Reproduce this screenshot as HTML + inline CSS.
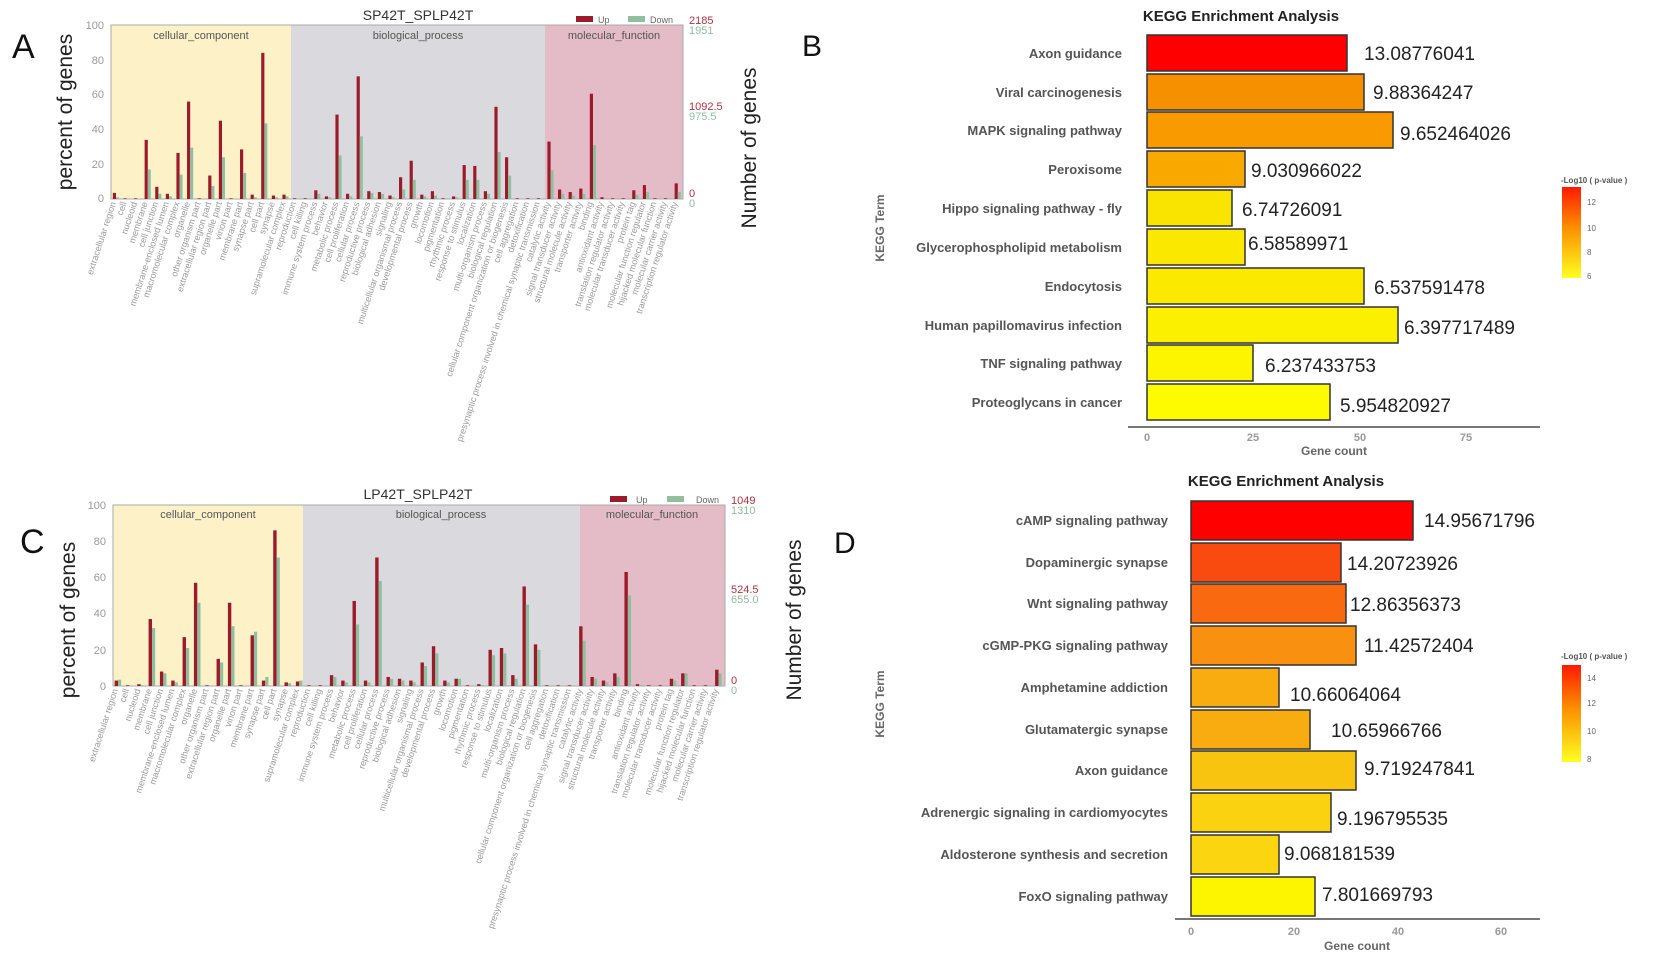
<!DOCTYPE html>
<html><head><meta charset="utf-8"><style>
html,body{margin:0;padding:0;background:#fff;}
svg{display:block;font-family:"Liberation Sans",sans-serif;}
.xl{font-size:9px;fill:#9a9a9a;text-anchor:end;}
.kl{font-size:13px;font-weight:bold;fill:#555;text-anchor:end;}
.kv{font-size:19px;fill:#222;}
.tk{font-size:11px;fill:#999;}
.kt{font-size:12px;fill:#666;font-weight:bold;text-anchor:middle;}
</style></head><body>
<svg width="1660" height="958" viewBox="0 0 1660 958" xmlns="http://www.w3.org/2000/svg">
<defs>
<linearGradient id="cb" x1="0" y1="0" x2="0" y2="1"><stop offset="0" stop-color="#ff1a00"/><stop offset="0.45" stop-color="#fb9000"/><stop offset="1" stop-color="#ffff20"/></linearGradient>
</defs>

<!-- ===== Panel A ===== -->
<text x="12" y="58" font-size="34" fill="#111">A</text>
<text x="418" y="20" font-size="14" fill="#333" text-anchor="middle">SP42T_SPLP42T</text>
<rect x="111" y="25" width="180" height="174" fill="#fdf1c8"/>
<rect x="291" y="25" width="254" height="174" fill="#dadade"/>
<rect x="545" y="25" width="138" height="174" fill="#e3bcc8"/>
<rect x="111" y="25" width="572" height="174" fill="none" stroke="#aaa" stroke-width="1"/>
<text x="201" y="39" font-size="11" fill="#555" text-anchor="middle">cellular_component</text>
<text x="418" y="39" font-size="11" fill="#555" text-anchor="middle">biological_process</text>
<text x="614" y="39" font-size="11" fill="#555" text-anchor="middle">molecular_function</text>
<g class="tk" text-anchor="end"><text x="104" y="29">100</text><text x="104" y="64">80</text><text x="104" y="98">60</text><text x="104" y="133">40</text><text x="104" y="168">20</text><text x="104" y="202">0</text></g>
<rect x="576" y="16" width="17" height="6" fill="#9b1b2a"/><text x="598" y="23" font-size="9" fill="#666">Up</text>
<rect x="628" y="16" width="17" height="6" fill="#8fbf9f"/><text x="650" y="23" font-size="9" fill="#666">Down</text>
<g font-size="11"><text x="689" y="24" fill="#b03040">2185</text><text x="689" y="34" fill="#8fbf9f">1951</text><text x="689" y="110" fill="#b03040">1092.5</text><text x="689" y="120" fill="#8fbf9f">975.5</text><text x="689" y="197" fill="#b03040">0</text><text x="689" y="207" fill="#8fbf9f">0</text></g>
<text transform="translate(72,112) rotate(-90)" font-size="21" fill="#222" text-anchor="middle">percent of genes</text>
<text transform="translate(756,148) rotate(-90)" font-size="21" fill="#222" text-anchor="middle">Number of genes</text>
<g transform="translate(116,199) scale(10.6,-1.74)">
<g fill="#9b1b2a">
<rect x="-0.3" width="0.3" height="3.5"/><rect x="0.7" width="0.3" height="0.4"/><rect x="1.7" width="0.3" height="0.4"/><rect x="2.7" width="0.3" height="34"/><rect x="3.7" width="0.3" height="7"/><rect x="4.7" width="0.3" height="3"/><rect x="5.7" width="0.3" height="26.5"/><rect x="6.7" width="0.3" height="56"/><rect x="7.7" width="0.3" height="0.4"/><rect x="8.7" width="0.3" height="13.5"/><rect x="9.7" width="0.3" height="45"/><rect x="10.7" width="0.3" height="0.4"/><rect x="11.7" width="0.3" height="28.5"/><rect x="12.7" width="0.3" height="2.5"/><rect x="13.7" width="0.3" height="84"/><rect x="14.7" width="0.3" height="2"/><rect x="15.7" width="0.3" height="2.5"/><rect x="16.7" width="0.3" height="0.4"/><rect x="17.7" width="0.3" height="0.4"/><rect x="18.7" width="0.3" height="5"/><rect x="19.7" width="0.3" height="1.5"/><rect x="20.7" width="0.3" height="48.5"/><rect x="21.7" width="0.3" height="3"/><rect x="22.7" width="0.3" height="70.5"/><rect x="23.7" width="0.3" height="4.5"/><rect x="24.7" width="0.3" height="4"/><rect x="25.7" width="0.3" height="2"/><rect x="26.7" width="0.3" height="12.5"/><rect x="27.7" width="0.3" height="22"/><rect x="28.7" width="0.3" height="2.5"/><rect x="29.7" width="0.3" height="4.5"/><rect x="30.7" width="0.3" height="0.4"/><rect x="31.7" width="0.3" height="1.5"/><rect x="32.7" width="0.3" height="19.5"/><rect x="33.7" width="0.3" height="19"/><rect x="34.7" width="0.3" height="4.5"/><rect x="35.7" width="0.3" height="53"/><rect x="36.7" width="0.3" height="24"/><rect x="37.7" width="0.3" height="0.4"/><rect x="38.7" width="0.3" height="0.4"/><rect x="39.7" width="0.3" height="0.4"/><rect x="40.7" width="0.3" height="33"/><rect x="41.7" width="0.3" height="5.5"/><rect x="42.7" width="0.3" height="4"/><rect x="43.7" width="0.3" height="6"/><rect x="44.7" width="0.3" height="60.5"/><rect x="45.7" width="0.3" height="1"/><rect x="46.7" width="0.3" height="0.4"/><rect x="47.7" width="0.3" height="0.4"/><rect x="48.7" width="0.3" height="5"/><rect x="49.7" width="0.3" height="8"/><rect x="50.7" width="0.3" height="0.4"/><rect x="51.7" width="0.3" height="0.4"/><rect x="52.7" width="0.3" height="9"/>
</g>
<g fill="#8fbf9f">
<rect x="0" width="0.28" height="1"/><rect x="3" width="0.28" height="17"/><rect x="4" width="0.28" height="3"/><rect x="5" width="0.28" height="1.5"/><rect x="6" width="0.28" height="14"/><rect x="7" width="0.28" height="29.5"/><rect x="9" width="0.28" height="7.5"/><rect x="10" width="0.28" height="24"/><rect x="12" width="0.28" height="15"/><rect x="13" width="0.28" height="1"/><rect x="14" width="0.28" height="43.5"/><rect x="15" width="0.28" height="1"/><rect x="16" width="0.28" height="1.5"/><rect x="19" width="0.28" height="3"/><rect x="20" width="0.28" height="1"/><rect x="21" width="0.28" height="25"/><rect x="22" width="0.28" height="1.5"/><rect x="23" width="0.28" height="36"/><rect x="24" width="0.28" height="3.5"/><rect x="25" width="0.28" height="3"/><rect x="26" width="0.28" height="1"/><rect x="27" width="0.28" height="5.5"/><rect x="28" width="0.28" height="11"/><rect x="29" width="0.28" height="1.5"/><rect x="30" width="0.28" height="2"/><rect x="32" width="0.28" height="1"/><rect x="33" width="0.28" height="11"/><rect x="34" width="0.28" height="11"/><rect x="35" width="0.28" height="3"/><rect x="36" width="0.28" height="27"/><rect x="37" width="0.28" height="13.5"/><rect x="41" width="0.28" height="16.5"/><rect x="42" width="0.28" height="3"/><rect x="43" width="0.28" height="2"/><rect x="44" width="0.28" height="3"/><rect x="45" width="0.28" height="31"/><rect x="49" width="0.28" height="2.5"/><rect x="50" width="0.28" height="4"/><rect x="53" width="0.28" height="4"/>
</g></g>
<g class="xl">
<text transform="translate(116,203) rotate(-72)">extracellular region</text>
<text transform="translate(126.6,203) rotate(-72)">cell</text>
<text transform="translate(137.2,203) rotate(-72)">nucleoid</text>
<text transform="translate(147.8,203) rotate(-72)">membrane</text>
<text transform="translate(158.4,203) rotate(-72)">cell junction</text>
<text transform="translate(169,203) rotate(-72)">membrane-enclosed lumen</text>
<text transform="translate(179.6,203) rotate(-72)">macromolecular complex</text>
<text transform="translate(190.2,203) rotate(-72)">organelle</text>
<text transform="translate(200.8,203) rotate(-72)">other organism part</text>
<text transform="translate(211.4,203) rotate(-72)">extracellular region part</text>
<text transform="translate(222,203) rotate(-72)">organelle part</text>
<text transform="translate(232.6,203) rotate(-72)">virion part</text>
<text transform="translate(243.2,203) rotate(-72)">membrane part</text>
<text transform="translate(253.8,203) rotate(-72)">synapse part</text>
<text transform="translate(264.4,203) rotate(-72)">cell part</text>
<text transform="translate(275,203) rotate(-72)">synapse</text>
<text transform="translate(285.6,203) rotate(-72)">supramolecular complex</text>
<text transform="translate(296.2,203) rotate(-72)">reproduction</text>
<text transform="translate(306.8,203) rotate(-72)">cell killing</text>
<text transform="translate(317.4,203) rotate(-72)">immune system process</text>
<text transform="translate(328,203) rotate(-72)">behavior</text>
<text transform="translate(338.6,203) rotate(-72)">metabolic process</text>
<text transform="translate(349.2,203) rotate(-72)">cell proliferation</text>
<text transform="translate(359.8,203) rotate(-72)">cellular process</text>
<text transform="translate(370.4,203) rotate(-72)">reproductive process</text>
<text transform="translate(381,203) rotate(-72)">biological adhesion</text>
<text transform="translate(391.6,203) rotate(-72)">signaling</text>
<text transform="translate(402.2,203) rotate(-72)">multicellular organismal process</text>
<text transform="translate(412.8,203) rotate(-72)">developmental process</text>
<text transform="translate(423.4,203) rotate(-72)">growth</text>
<text transform="translate(434,203) rotate(-72)">locomotion</text>
<text transform="translate(444.6,203) rotate(-72)">pigmentation</text>
<text transform="translate(455.2,203) rotate(-72)">rhythmic process</text>
<text transform="translate(465.8,203) rotate(-72)">response to stimulus</text>
<text transform="translate(476.4,203) rotate(-72)">localization</text>
<text transform="translate(487,203) rotate(-72)">multi-organism process</text>
<text transform="translate(497.6,203) rotate(-72)">biological regulation</text>
<text transform="translate(508.2,203) rotate(-72)">cellular component organization or biogenesis</text>
<text transform="translate(518.8,203) rotate(-72)">cell aggregation</text>
<text transform="translate(529.4,203) rotate(-72)">detoxification</text>
<text transform="translate(540,203) rotate(-72)">presynaptic process involved in chemical synaptic transmission</text>
<text transform="translate(550.6,203) rotate(-72)">catalytic activity</text>
<text transform="translate(561.2,203) rotate(-72)">signal transducer activity</text>
<text transform="translate(571.8,203) rotate(-72)">structural molecule activity</text>
<text transform="translate(582.4,203) rotate(-72)">transporter activity</text>
<text transform="translate(593,203) rotate(-72)">binding</text>
<text transform="translate(603.6,203) rotate(-72)">antioxidant activity</text>
<text transform="translate(614.2,203) rotate(-72)">translation regulator activity</text>
<text transform="translate(624.8,203) rotate(-72)">molecular transducer activity</text>
<text transform="translate(635.4,203) rotate(-72)">protein tag</text>
<text transform="translate(646,203) rotate(-72)">molecular function regulator</text>
<text transform="translate(656.6,203) rotate(-72)">hijacked molecular function</text>
<text transform="translate(667.2,203) rotate(-72)">molecular carrier activity</text>
<text transform="translate(677.8,203) rotate(-72)">transcription regulator activity</text>
</g>

<!-- ===== Panel C ===== -->
<text x="20" y="553" font-size="34" fill="#111">C</text>
<text x="418" y="499" font-size="14" fill="#333" text-anchor="middle">LP42T_SPLP42T</text>
<rect x="113" y="505" width="190" height="181" fill="#fdf1c8"/>
<rect x="303" y="505" width="277" height="181" fill="#dadade"/>
<rect x="580" y="505" width="145" height="181" fill="#e3bcc8"/>
<rect x="113" y="505" width="612" height="181" fill="none" stroke="#aaa" stroke-width="1"/>
<text x="208" y="518" font-size="11" fill="#555" text-anchor="middle">cellular_component</text>
<text x="441" y="518" font-size="11" fill="#555" text-anchor="middle">biological_process</text>
<text x="652" y="518" font-size="11" fill="#555" text-anchor="middle">molecular_function</text>
<g class="tk" text-anchor="end"><text x="106" y="509">100</text><text x="106" y="545">80</text><text x="106" y="581">60</text><text x="106" y="617">40</text><text x="106" y="654">20</text><text x="106" y="690">0</text></g>
<rect x="610" y="496" width="17" height="6" fill="#9b1b2a"/><text x="636" y="503" font-size="9" fill="#666">Up</text>
<rect x="667" y="496" width="17" height="6" fill="#8fbf9f"/><text x="696" y="503" font-size="9" fill="#666">Down</text>
<g font-size="11"><text x="731" y="504" fill="#b03040">1049</text><text x="731" y="514" fill="#8fbf9f">1310</text><text x="731" y="593" fill="#b03040">524.5</text><text x="731" y="603" fill="#8fbf9f">655.0</text><text x="731" y="684" fill="#b03040">0</text><text x="731" y="694" fill="#8fbf9f">0</text></g>
<text transform="translate(75,620) rotate(-90)" font-size="21" fill="#222" text-anchor="middle">percent of genes</text>
<text transform="translate(801,620) rotate(-90)" font-size="21" fill="#222" text-anchor="middle">Number of genes</text>
<g transform="translate(118,686) scale(11.33,-1.81)">
<g fill="#9b1b2a">
<rect x="-0.3" width="0.3" height="3"/><rect x="0.7" width="0.3" height="0.4"/><rect x="1.7" width="0.3" height="1"/><rect x="2.7" width="0.3" height="37"/><rect x="3.7" width="0.3" height="8"/><rect x="4.7" width="0.3" height="3"/><rect x="5.7" width="0.3" height="27"/><rect x="6.7" width="0.3" height="57"/><rect x="7.7" width="0.3" height="0.4"/><rect x="8.7" width="0.3" height="15"/><rect x="9.7" width="0.3" height="46"/><rect x="10.7" width="0.3" height="0.4"/><rect x="11.7" width="0.3" height="28"/><rect x="12.7" width="0.3" height="3"/><rect x="13.7" width="0.3" height="86"/><rect x="14.7" width="0.3" height="2"/><rect x="15.7" width="0.3" height="2.5"/><rect x="16.7" width="0.3" height="0.4"/><rect x="17.7" width="0.3" height="0.4"/><rect x="18.7" width="0.3" height="6"/><rect x="19.7" width="0.3" height="3"/><rect x="20.7" width="0.3" height="47"/><rect x="21.7" width="0.3" height="3"/><rect x="22.7" width="0.3" height="71"/><rect x="23.7" width="0.3" height="5"/><rect x="24.7" width="0.3" height="4"/><rect x="25.7" width="0.3" height="3"/><rect x="26.7" width="0.3" height="13"/><rect x="27.7" width="0.3" height="22"/><rect x="28.7" width="0.3" height="3"/><rect x="29.7" width="0.3" height="4"/><rect x="30.7" width="0.3" height="0.4"/><rect x="31.7" width="0.3" height="1"/><rect x="32.7" width="0.3" height="20"/><rect x="33.7" width="0.3" height="21"/><rect x="34.7" width="0.3" height="6"/><rect x="35.7" width="0.3" height="55"/><rect x="36.7" width="0.3" height="23"/><rect x="37.7" width="0.3" height="0.4"/><rect x="38.7" width="0.3" height="0.4"/><rect x="39.7" width="0.3" height="0.4"/><rect x="40.7" width="0.3" height="33"/><rect x="41.7" width="0.3" height="5"/><rect x="42.7" width="0.3" height="3"/><rect x="43.7" width="0.3" height="7"/><rect x="44.7" width="0.3" height="63"/><rect x="45.7" width="0.3" height="1"/><rect x="46.7" width="0.3" height="0.4"/><rect x="47.7" width="0.3" height="0.4"/><rect x="48.7" width="0.3" height="4"/><rect x="49.7" width="0.3" height="7"/><rect x="50.7" width="0.3" height="0.4"/><rect x="51.7" width="0.3" height="0.4"/><rect x="52.7" width="0.3" height="9"/>
</g>
<g fill="#8fbf9f">
<rect x="0" width="0.28" height="3.5"/><rect x="2" width="0.28" height="0.5"/><rect x="3" width="0.28" height="32"/><rect x="4" width="0.28" height="7"/><rect x="5" width="0.28" height="2"/><rect x="6" width="0.28" height="21"/><rect x="7" width="0.28" height="46"/><rect x="9" width="0.28" height="13"/><rect x="10" width="0.28" height="33"/><rect x="12" width="0.28" height="30"/><rect x="13" width="0.28" height="5"/><rect x="14" width="0.28" height="71"/><rect x="15" width="0.28" height="1.5"/><rect x="16" width="0.28" height="3"/><rect x="19" width="0.28" height="5"/><rect x="20" width="0.28" height="2"/><rect x="21" width="0.28" height="34"/><rect x="22" width="0.28" height="2"/><rect x="23" width="0.28" height="58"/><rect x="24" width="0.28" height="4"/><rect x="25" width="0.28" height="3"/><rect x="26" width="0.28" height="2"/><rect x="27" width="0.28" height="11"/><rect x="28" width="0.28" height="18"/><rect x="29" width="0.28" height="2"/><rect x="30" width="0.28" height="4"/><rect x="32" width="0.28" height="0.5"/><rect x="33" width="0.28" height="17"/><rect x="34" width="0.28" height="18"/><rect x="35" width="0.28" height="4"/><rect x="36" width="0.28" height="45"/><rect x="37" width="0.28" height="20"/><rect x="41" width="0.28" height="25"/><rect x="42" width="0.28" height="4"/><rect x="43" width="0.28" height="2"/><rect x="44" width="0.28" height="5"/><rect x="45" width="0.28" height="50"/><rect x="46" width="0.28" height="0.5"/><rect x="49" width="0.28" height="3"/><rect x="50" width="0.28" height="7"/><rect x="53" width="0.28" height="7"/>
</g></g>
<g class="xl">
<text transform="translate(118,690) rotate(-72)">extracellular region</text>
<text transform="translate(129.3,690) rotate(-72)">cell</text>
<text transform="translate(140.7,690) rotate(-72)">nucleoid</text>
<text transform="translate(152,690) rotate(-72)">membrane</text>
<text transform="translate(163.3,690) rotate(-72)">cell junction</text>
<text transform="translate(174.7,690) rotate(-72)">membrane-enclosed lumen</text>
<text transform="translate(186,690) rotate(-72)">macromolecular complex</text>
<text transform="translate(197.3,690) rotate(-72)">organelle</text>
<text transform="translate(208.6,690) rotate(-72)">other organism part</text>
<text transform="translate(220,690) rotate(-72)">extracellular region part</text>
<text transform="translate(231.3,690) rotate(-72)">organelle part</text>
<text transform="translate(242.6,690) rotate(-72)">virion part</text>
<text transform="translate(254,690) rotate(-72)">membrane part</text>
<text transform="translate(265.3,690) rotate(-72)">synapse part</text>
<text transform="translate(276.6,690) rotate(-72)">cell part</text>
<text transform="translate(288,690) rotate(-72)">synapse</text>
<text transform="translate(299.3,690) rotate(-72)">supramolecular complex</text>
<text transform="translate(310.6,690) rotate(-72)">reproduction</text>
<text transform="translate(321.9,690) rotate(-72)">cell killing</text>
<text transform="translate(333.3,690) rotate(-72)">immune system process</text>
<text transform="translate(344.6,690) rotate(-72)">behavior</text>
<text transform="translate(355.9,690) rotate(-72)">metabolic process</text>
<text transform="translate(367.3,690) rotate(-72)">cell proliferation</text>
<text transform="translate(378.6,690) rotate(-72)">cellular process</text>
<text transform="translate(389.9,690) rotate(-72)">reproductive process</text>
<text transform="translate(401.3,690) rotate(-72)">biological adhesion</text>
<text transform="translate(412.6,690) rotate(-72)">signaling</text>
<text transform="translate(423.9,690) rotate(-72)">multicellular organismal process</text>
<text transform="translate(435.2,690) rotate(-72)">developmental process</text>
<text transform="translate(446.6,690) rotate(-72)">growth</text>
<text transform="translate(457.9,690) rotate(-72)">locomotion</text>
<text transform="translate(469.2,690) rotate(-72)">pigmentation</text>
<text transform="translate(480.6,690) rotate(-72)">rhythmic process</text>
<text transform="translate(491.9,690) rotate(-72)">response to stimulus</text>
<text transform="translate(503.2,690) rotate(-72)">localization</text>
<text transform="translate(514.6,690) rotate(-72)">multi-organism process</text>
<text transform="translate(525.9,690) rotate(-72)">biological regulation</text>
<text transform="translate(537.2,690) rotate(-72)">cellular component organization or biogenesis</text>
<text transform="translate(548.5,690) rotate(-72)">cell aggregation</text>
<text transform="translate(559.9,690) rotate(-72)">detoxification</text>
<text transform="translate(571.2,690) rotate(-72)">presynaptic process involved in chemical synaptic transmission</text>
<text transform="translate(582.5,690) rotate(-72)">catalytic activity</text>
<text transform="translate(593.9,690) rotate(-72)">signal transducer activity</text>
<text transform="translate(605.2,690) rotate(-72)">structural molecule activity</text>
<text transform="translate(616.5,690) rotate(-72)">transporter activity</text>
<text transform="translate(627.9,690) rotate(-72)">binding</text>
<text transform="translate(639.2,690) rotate(-72)">antioxidant activity</text>
<text transform="translate(650.5,690) rotate(-72)">translation regulator activity</text>
<text transform="translate(661.8,690) rotate(-72)">molecular transducer activity</text>
<text transform="translate(673.2,690) rotate(-72)">protein tag</text>
<text transform="translate(684.5,690) rotate(-72)">molecular function regulator</text>
<text transform="translate(695.8,690) rotate(-72)">hijacked molecular function</text>
<text transform="translate(707.2,690) rotate(-72)">molecular carrier activity</text>
<text transform="translate(718.5,690) rotate(-72)">transcription regulator activity</text>
</g>

<!-- ===== Panel B ===== -->
<text x="802" y="56" font-size="30" fill="#111">B</text>
<text x="1241" y="21" font-size="15" font-weight="bold" fill="#222" text-anchor="middle">KEGG Enrichment Analysis</text>
<text transform="translate(884,228) rotate(-90)" class="kt">KEGG Term</text>
<g stroke="#333" stroke-width="1.5">
<rect x="1147" y="35" width="200" height="36" fill="#ff0000"/>
<rect x="1147" y="74" width="217" height="36" fill="#f79000"/>
<rect x="1147" y="112" width="246" height="36" fill="#f99a00"/>
<rect x="1147" y="151" width="98" height="36" fill="#f9a800"/>
<rect x="1147" y="190" width="85" height="36" fill="#f9e400"/>
<rect x="1147" y="229" width="98" height="36" fill="#fbe800"/>
<rect x="1147" y="268" width="217" height="36" fill="#fbe900"/>
<rect x="1147" y="307" width="251" height="36" fill="#fbf000"/>
<rect x="1147" y="345" width="106" height="36" fill="#fdf500"/>
<rect x="1147" y="384" width="183" height="36" fill="#fefb00"/>
</g>
<g class="kl">
<text x="1122" y="58">Axon guidance</text>
<text x="1122" y="97">Viral carcinogenesis</text>
<text x="1122" y="135">MAPK signaling pathway</text>
<text x="1122" y="174">Peroxisome</text>
<text x="1122" y="213">Hippo signaling pathway - fly</text>
<text x="1122" y="252">Glycerophospholipid metabolism</text>
<text x="1122" y="291">Endocytosis</text>
<text x="1122" y="330">Human papillomavirus infection</text>
<text x="1122" y="368">TNF signaling pathway</text>
<text x="1122" y="407">Proteoglycans in cancer</text>
</g>
<g class="kv">
<text x="1364" y="60">13.08776041</text>
<text x="1373" y="99">9.88364247</text>
<text x="1400" y="140">9.652464026</text>
<text x="1251" y="177">9.030966022</text>
<text x="1242" y="216">6.74726091</text>
<text x="1248" y="250">6.58589971</text>
<text x="1374" y="294">6.537591478</text>
<text x="1404" y="334">6.397717489</text>
<text x="1265" y="372">6.237433753</text>
<text x="1340" y="412">5.954820927</text>
</g>
<line x1="1128" y1="427" x2="1540" y2="427" stroke="#777" stroke-width="2"/>
<g class="tk" text-anchor="middle" font-weight="bold" fill="#888"><text x="1147" y="441">0</text><text x="1253" y="441">25</text><text x="1360" y="441">50</text><text x="1466" y="441">75</text></g>
<text x="1334" y="455" class="kt" fill="#333">Gene count</text>
<text x="1561" y="183" font-size="8" font-weight="bold" fill="#555">-Log10 ( p-value )</text>
<rect x="1562" y="187" width="19" height="91" fill="url(#cb)"/>
<g font-size="8" fill="#666"><text x="1587" y="205">12</text><text x="1587" y="231">10</text><text x="1587" y="255">8</text><text x="1587" y="279">6</text></g>

<!-- ===== Panel D ===== -->
<text x="834" y="553" font-size="30" fill="#111">D</text>
<text x="1286" y="486" font-size="15" font-weight="bold" fill="#222" text-anchor="middle">KEGG Enrichment Analysis</text>
<text transform="translate(884,704) rotate(-90)" class="kt">KEGG Term</text>
<g stroke="#333" stroke-width="1.5">
<rect x="1191" y="501" width="222" height="39" fill="#ff0000"/>
<rect x="1191" y="543" width="150" height="39" fill="#f94a10"/>
<rect x="1191" y="584" width="155" height="39" fill="#f96a10"/>
<rect x="1191" y="626" width="165" height="39" fill="#f99010"/>
<rect x="1191" y="668" width="88" height="39" fill="#f9ac10"/>
<rect x="1191" y="710" width="119" height="39" fill="#f9ac10"/>
<rect x="1191" y="751" width="165" height="39" fill="#f9c410"/>
<rect x="1191" y="793" width="140" height="39" fill="#fad210"/>
<rect x="1191" y="835" width="88" height="39" fill="#fad510"/>
<rect x="1191" y="877" width="124" height="39" fill="#fdf500"/>
</g>
<g class="kl">
<text x="1168" y="525">cAMP signaling pathway</text>
<text x="1168" y="567">Dopaminergic synapse</text>
<text x="1168" y="608">Wnt signaling pathway</text>
<text x="1168" y="650">cGMP-PKG signaling pathway</text>
<text x="1168" y="692">Amphetamine addiction</text>
<text x="1168" y="734">Glutamatergic synapse</text>
<text x="1168" y="775">Axon guidance</text>
<text x="1168" y="817">Adrenergic signaling in cardiomyocytes</text>
<text x="1168" y="859">Aldosterone synthesis and secretion</text>
<text x="1168" y="901">FoxO signaling pathway</text>
</g>
<g class="kv">
<text x="1424" y="527">14.95671796</text>
<text x="1347" y="570">14.20723926</text>
<text x="1350" y="611">12.86356373</text>
<text x="1364" y="652">11.42572404</text>
<text x="1290" y="701">10.66064064</text>
<text x="1331" y="737">10.65966766</text>
<text x="1364" y="775">9.719247841</text>
<text x="1337" y="825">9.196795535</text>
<text x="1284" y="860">9.068181539</text>
<text x="1322" y="901">7.801669793</text>
</g>
<line x1="1175" y1="919" x2="1540" y2="919" stroke="#777" stroke-width="2"/>
<g class="tk" text-anchor="middle" font-weight="bold" fill="#888"><text x="1191" y="935">0</text><text x="1294" y="935">20</text><text x="1398" y="935">40</text><text x="1501" y="935">60</text></g>
<text x="1357" y="950" class="kt" fill="#333">Gene count</text>
<text x="1561" y="659" font-size="8" font-weight="bold" fill="#555">-Log10 ( p-value )</text>
<rect x="1562" y="665" width="19" height="97" fill="url(#cb)"/>
<g font-size="8" fill="#666"><text x="1587" y="681">14</text><text x="1587" y="706">12</text><text x="1587" y="734">10</text><text x="1587" y="762">8</text></g>
</svg>
</body></html>
